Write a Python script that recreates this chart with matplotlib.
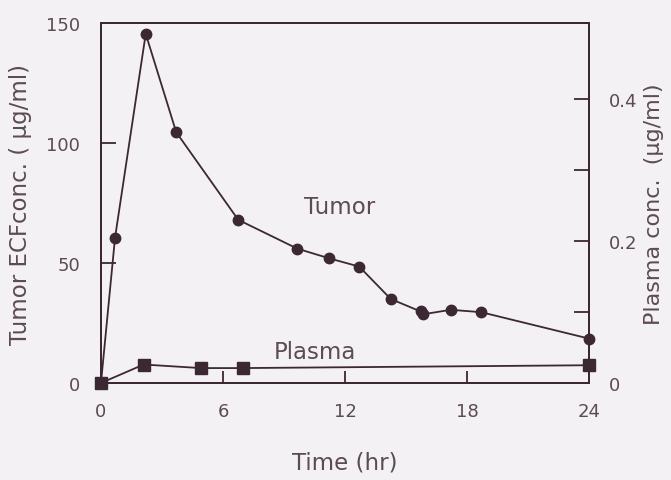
import matplotlib
matplotlib.use("Agg")
import matplotlib.pyplot as plt

plt.rcParams['font.family'] = ['DejaVu Sans']

# Tumor ECF concentration (left axis, µg/ml)
tumor_time = [0, 0.69, 2.2, 3.7, 6.75, 9.65, 11.2, 12.7, 14.25, 15.72, 15.82, 17.2, 18.7, 24]
tumor_conc = [0, 60.5, 145.5, 104.5, 68, 56, 52, 48.5, 35, 29.8, 28.6, 30.5, 29.5, 18.5]

# Plasma concentration (right axis, µg/ml)
plasma_time = [0, 2.1, 4.9, 7.0, 24]
plasma_conc = [0, 0.026, 0.021, 0.021, 0.025]

x_ticks = [0, 6, 12, 18, 24]
left_ticks = [0, 50, 100, 150]
right_ticks = [0, 0.1, 0.2, 0.3, 0.4]
right_labels = ['0', '', '0.2', '', '0.4']

ink = '#3b2832'
text_col = '#5c4a54'
bg = '#f3f1f3'

fig = plt.figure(figsize=(6.71, 4.81), dpi=100, facecolor=bg)
ax = fig.add_axes([0.1505, 0.2017, 0.7273, 0.7483])
ax.set_facecolor(bg)
ax2 = ax.twinx()

ax.plot(tumor_time, tumor_conc, color=ink, lw=1.3, marker='o', ms=7.5,
        mfc=ink, mec=ink, clip_on=False, zorder=3)
ax2.plot(plasma_time, plasma_conc, color=ink, lw=1.3, marker='s', ms=9,
         mfc=ink, mec=ink, clip_on=False, zorder=3)

ax.set_xlim(0, 24)
ax.set_ylim(0, 150)
ax2.set_ylim(0, 0.507)

ax.set_xticks(x_ticks)
ax.set_yticks(left_ticks)
ax2.set_yticks(right_ticks)
ax2.set_yticklabels(right_labels)

for a in (ax, ax2):
    for s in a.spines.values():
        s.set_color(ink)
        s.set_linewidth(1.4)

ax.tick_params(axis='x', direction='in', length=9, width=1.3, color=ink,
               pad=14, labelsize=13, labelcolor=text_col)
ax.tick_params(axis='y', direction='in', length=11, width=1.3, color=ink,
               pad=15, labelsize=13, labelcolor=text_col)
ax2.tick_params(axis='y', direction='in', length=11, width=1.3, color=ink,
                pad=14, labelsize=13, labelcolor=text_col)

ax.set_xlabel('Time (hr)', fontsize=16.5, color=text_col, labelpad=22)
ax.set_ylabel('Tumor ECFconc. ( \u03bcg/ml)', fontsize=16.5, color=text_col, labelpad=10)
ax2.set_ylabel('Plasma conc.  (\u03bcg/ml)', fontsize=16, color=text_col, labelpad=5)

ax.text(11.75, 73.5, 'Tumor', fontsize=16.5, color=text_col, ha='center', va='center')
ax.text(10.5, 13, 'Plasma', fontsize=16.5, color=text_col, ha='center', va='center')

fig.savefig('out.png', dpi=100, facecolor=bg)
